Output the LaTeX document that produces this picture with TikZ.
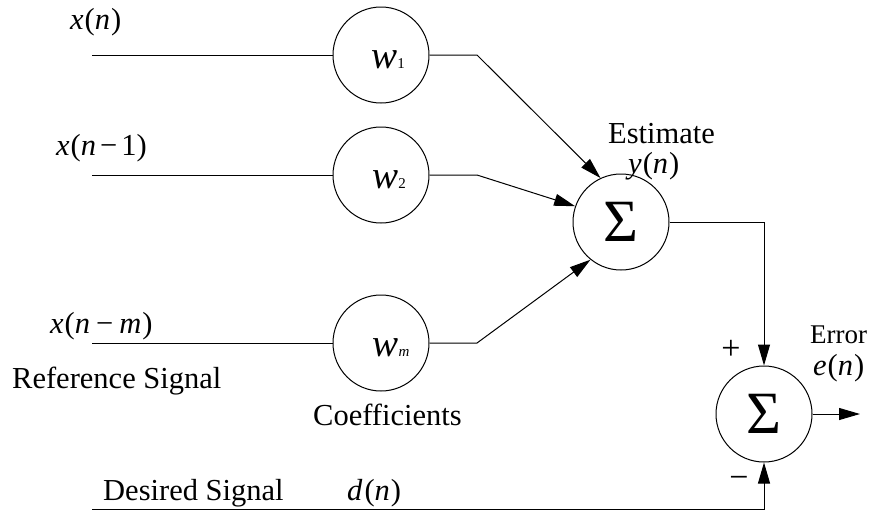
\documentclass[tikz,border=0pt]{standalone}
\usepackage{fontspec}
\setmainfont{Liberation Serif}
\usetikzlibrary{arrows.meta}
\newcommand\lblsize{\fontsize{30.5}{36}\selectfont}
\newcommand\wsym[1]{\fontsize{39}{40}\selectfont\textit{w}\fontsize{15}{16}\selectfont #1}
\begin{document}
\begin{tikzpicture}[x=1pt,y=-1pt,
  wire/.style={line width=1pt},
  flow/.style={wire,-{Triangle[length=21pt,width=12pt]}},
  coef/.style={circle,draw,line width=1pt,minimum size=96pt,inner sep=0pt},
  adder/.style={coef,font=\fontsize{60}{64}\selectfont},
  txt/.style={anchor=base west,inner sep=0pt,font=\lblsize},
  wlab/.style={anchor=base,inner sep=0pt},
  sign/.style={inner sep=0pt,font=\fontsize{34}{36}\selectfont}]
\useasboundingbox (0,0) rectangle (880,512);

% weight circles
\node[coef] (w1) at (381,55) {};
\node[coef] (w2) at (381,175) {};
\node[coef] (wm) at (381,343) {};
\node[wlab] (w1t) at (388,68) {\wsym{1}};
\node[wlab] (w2t) at (389,188) {\wsym{2}};
\node[wlab] (wmt) at (391,356) {\wsym{\textit{m}}};

% summing junctions
\node[adder] (s1) at (621,222) {Σ};
\node[adder] (s2) at (764,414) {Σ};

% line ends and bends
\coordinate (i1) at (92,55);
\coordinate (i2) at (92,175);
\coordinate (im) at (92,343);
\coordinate (b1) at (477,55);
\coordinate (b2) at (477,175);
\coordinate (bm) at (477,343);
\coordinate (c1) at (764,222);
\coordinate (eo) at (860,414);
\coordinate (d0) at (92,509);
\coordinate (c2) at (764,509);

% connectors
\draw[wire] (i1) -- (w1);
\draw[wire] (i2) -- (w2);
\draw[wire] (im) -- (wm);
\draw[flow] (w1) -- (b1) -- (s1.115.8);
\draw[flow] (w2) -- (b2) -- (s1.161.6);
\draw[flow] (wm) -- (bm) -- (s1.231.4);
\draw[flow] (s1) -- (c1) -- (s2);
\draw[flow] (s2) -- (eo);
\draw[flow] (d0) -- (c2) -- (s2);

% labels
\node[txt] (lx0) at (70,29) {\textit{x}\kern1pt(\textit{n}\kern1pt)};
\node[txt] (lx1) at (56,155) {\textit{x}\kern1pt(\textit{n}\kern4pt−\kern4pt1)};
\node[txt] (lxm) at (50,333) {\textit{x}\kern1pt(\textit{n}\kern6pt−\kern6pt\textit{m}\kern1pt)};
\node[txt] (lref) at (12,388) {Reference Signal};
\node[txt] (lcoef) at (313,425) {Coefficients};
\node[txt] (ldes) at (103,500) {Desired Signal};
\node[txt] (ld) at (347,500) {\textit{d}\kern2pt(\textit{n}\kern1pt)};
\node[txt] (lest) at (608,143) {Estimate};
\node[txt] (ly) at (628,173) {\textit{y}\kern1pt(\textit{n}\kern1pt)};
\node[txt,font=\fontsize{27}{30}\selectfont] (lerr) at (810,343) {Error};
\node[txt] (le) at (813,375) {\textit{e}\kern1pt(\textit{n}\kern1pt)};
\node[sign] (lplus) at (731,350) {+};
\node[sign] (lminus) at (739,482) {−};
\end{tikzpicture}
\end{document}
